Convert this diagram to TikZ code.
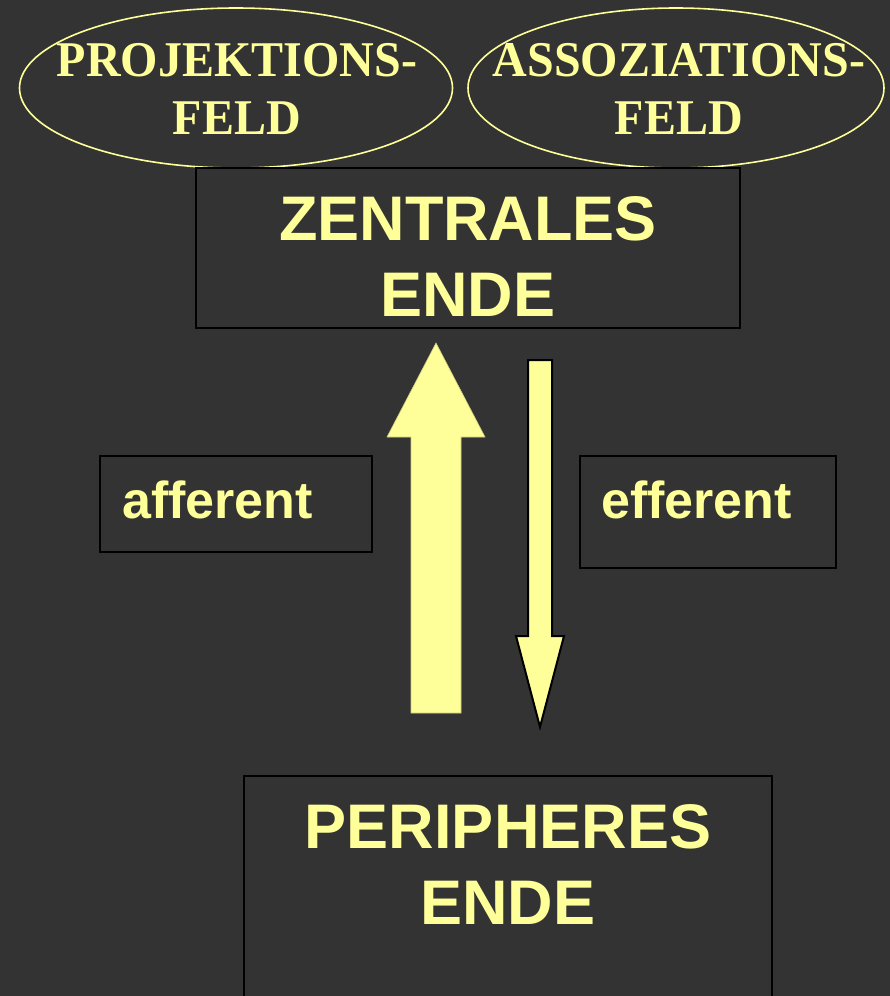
\documentclass[tikz,border=0pt]{standalone}
\usepackage{fontspec}
\setmainfont{Liberation Sans}
\newfontfamily\feldfont[FakeStretch=0.96]{Liberation Serif}
\usetikzlibrary{shapes.geometric,positioning}
\definecolor{hinter}{HTML}{333333}
\definecolor{gelb}{HTML}{FFFF99}

\begin{document}
\begin{tikzpicture}[x=1pt, y=-1pt,
    feld/.style={draw=gelb, line width=1.6pt, ellipse, inner sep=0pt, minimum height=160pt},
    feldtext/.style={text=gelb, align=center, inner sep=0pt, font=\feldfont\bfseries\fontsize{50}{58}\selectfont},
    kasten/.style={draw=black, line width=2pt, rectangle, inner sep=0pt},
    titel/.style={text=gelb, align=center, inner sep=0pt, font=\bfseries\fontsize{63}{76}\selectfont},
    richtung/.style={text=gelb, anchor=base west, inner sep=0pt, font=\bfseries\fontsize{52}{60}\selectfont}]
    \fill[hinter] (0,0) rectangle (890,996);
    \useasboundingbox (0,0) rectangle (890,996);
    \clip (0,0) rectangle (890,996);

    % Felder oben
    \node[feld, minimum width=433pt] (projektion) at (236,88) {};
    \node[feldtext] (projektiontext) at (237,89) {PROJEKTIONS-\\FELD};
    \node[feld, minimum width=416pt] (assoziation) at (676,88) {};
    \node[feldtext] (assoziationtext) at (679,89) {ASSOZIATIONS-\\FELD};

    % Enden
    \node[kasten, minimum width=544pt, minimum height=160pt] (zentral) at (468,248) {};
    \node[titel] (zentraltext) at (468,257) {ZENTRALES\\ENDE};
    \node[kasten, minimum width=528pt, minimum height=240pt] (peripher) at (508,896) {};
    \node[titel] (periphertext) at (508,864) {PERIPHERES\\ENDE};

    % Richtungen
    \node[kasten, minimum width=272pt, minimum height=96pt] (afferent) at (236,504) {};
    \node[richtung] (afferenttext) at (122,518) {afferent};
    \node[kasten, minimum width=256pt, minimum height=112pt] (efferent) at (708,512) {};
    \node[richtung] (efferenttext) at (601,518) {efferent};

    % Pfeile
    \coordinate (auf) at (436,713);
    \coordinate (ab) at (540,727);
    \filldraw[fill=gelb, draw=gelb!80!black, line width=0.6pt] (auf) ++(-25,0) -- ++(0,-276) -- ++(-24,0)
        -- ++(49,-94) -- ++(49,94) -- ++(-24,0) -- ++(0,276) -- cycle;
    \filldraw[fill=gelb, draw=black, line width=2pt] (ab) -- ++(24,-91) -- ++(-12,0) -- ++(0,-276)
        -- ++(-24,0) -- ++(0,276) -- ++(-12,0) -- cycle;
  \end{tikzpicture}
\end{document}
